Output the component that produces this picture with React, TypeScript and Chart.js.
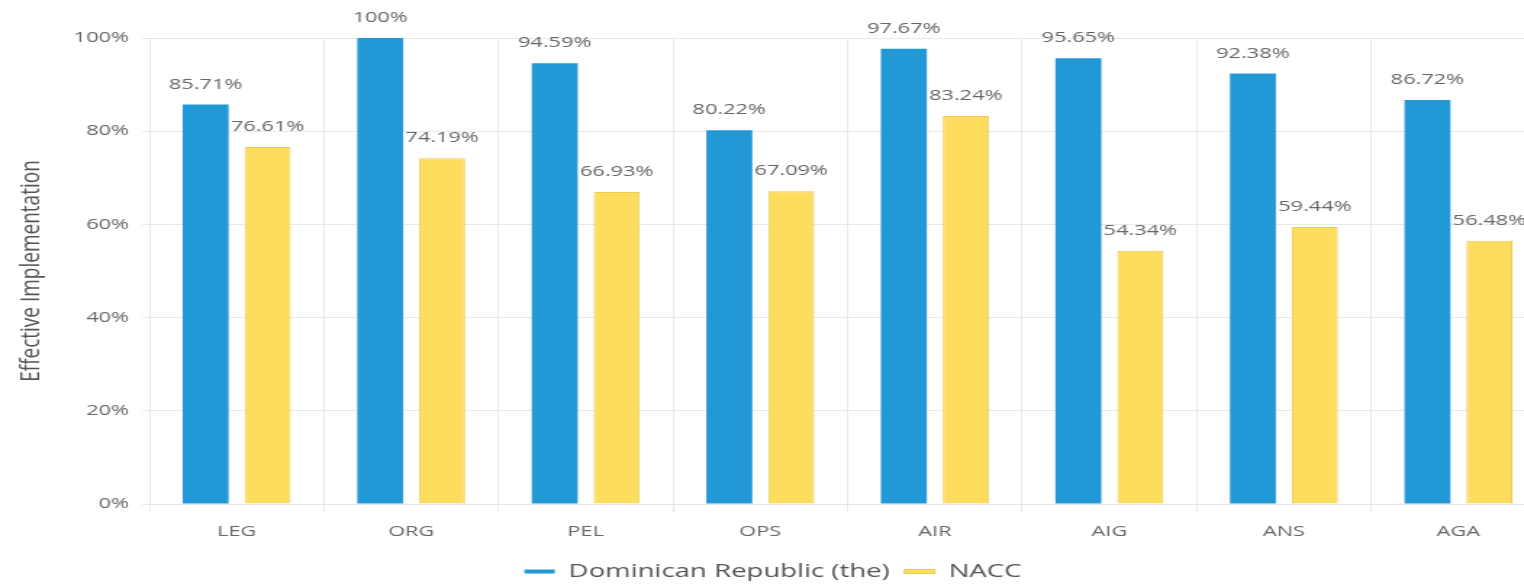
import { useEffect, useRef } from "react";
import { Chart, registerables } from "chart.js";

Chart.register(...registerables);

const categories = ["LEG", "ORG", "PEL", "OPS", "AIR", "AIG", "ANS", "AGA"];
const dominicanValues = [85.71, 100, 94.59, 80.22, 97.67, 95.65, 92.38, 86.72];
const naccValues = [76.61, 74.19, 66.93, 67.09, 83.24, 54.34, 59.44, 56.48];
const seriesNames = ["Dominican Republic (the)", "NACC"];
const yTickValues = [0, 20, 40, 60, 80, 100];
const yAxisTitle = "Effective Implementation";

const STRETCH_X = 1.45;
const INNER_W = 1069;
const INNER_H = 591;

const valueLabels = {
  id: "valueLabels",
  afterDatasetsDraw(chart: any) {
    const ctx = chart.ctx;
    ctx.save();
    ctx.font = "15px 'Open Sans', sans-serif";
    ctx.fillStyle = "#666666";
    ctx.textAlign = "center";
    ctx.textBaseline = "alphabetic";
    chart.data.datasets.forEach((ds: any, i: number) => {
      const meta = chart.getDatasetMeta(i);
      meta.data.forEach((el: any, j: number) => {
        ctx.fillText(`${ds.data[j]}%`, el.x, el.y - 16);
      });
    });
    ctx.restore();
  },
};

export default function App() {
  const canvasRef = useRef<HTMLCanvasElement | null>(null);

  useEffect(() => {
    if (!canvasRef.current) return;
    Chart.defaults.font.family = "'Open Sans', sans-serif";
    const chart = new Chart(canvasRef.current, {
      type: "bar",
      data: {
        labels: categories,
        datasets: [
          {
            label: seriesNames[0],
            data: dominicanValues,
            backgroundColor: "#2398d6",
            borderColor: "#2398d6",
            borderWidth: 0,
            categoryPercentage: 0.71,
            barPercentage: 0.742,
          },
          {
            label: seriesNames[1],
            data: naccValues,
            backgroundColor: "#fddc5e",
            borderColor: "#eccb52",
            borderWidth: 1,
            categoryPercentage: 0.71,
            barPercentage: 0.742,
          },
        ],
      },
      options: {
        animation: false,
        responsive: true,
        maintainAspectRatio: false,
        layout: { padding: { top: 38, left: 0, right: 3, bottom: 0 } },
        plugins: {
          tooltip: { enabled: false },
          legend: {
            position: "bottom",
            labels: {
              boxWidth: 21,
              boxHeight: 4,
              padding: 10,
              color: "#555555",
              font: { size: 19 },
            },
          },
        },
        scales: {
          x: {
            grid: { color: "#e9e9e9", tickLength: 8, offset: true },
            border: { color: "#e4e4e4" },
            ticks: { color: "#666666", font: { size: 15 }, padding: 11 },
            afterFit: (scale: any) => {
              scale.height = 48;
            },
          },
          y: {
            min: 0,
            max: 100,
            afterBuildTicks: (scale: any) => {
              scale.ticks = yTickValues.map((v) => ({ value: v }));
            },
            grid: { color: "#e9e9e9", tickLength: 5 },
            border: { color: "#e4e4e4" },
            ticks: {
              color: "#666666",
              font: { size: 15 },
              padding: 9,
              callback: (v: any) => `${v}%`,
            },
            title: {
              display: true,
              text: yAxisTitle,
              color: "#555555",
              font: { size: 19 },
              padding: { top: 10, bottom: 0 },
            },
            afterFit: (scale: any) => {
              scale.width = 103;
            },
          },
        },
      },
      plugins: [valueLabels],
    });
    return () => chart.destroy();
  }, []);

  return (
    <div
      style={{
        position: "fixed",
        left: 0,
        top: 0,
        width: 1524,
        height: 587,
        overflow: "hidden",
        background: "#ffffff",
      }}
    >
      <div
        style={{
          position: "absolute",
          left: 0,
          top: 0,
          width: INNER_W,
          height: INNER_H,
          transform: `scaleX(${STRETCH_X})`,
          transformOrigin: "0 0",
        }}
      >
        <canvas ref={canvasRef} />
      </div>
    </div>
  );
}
